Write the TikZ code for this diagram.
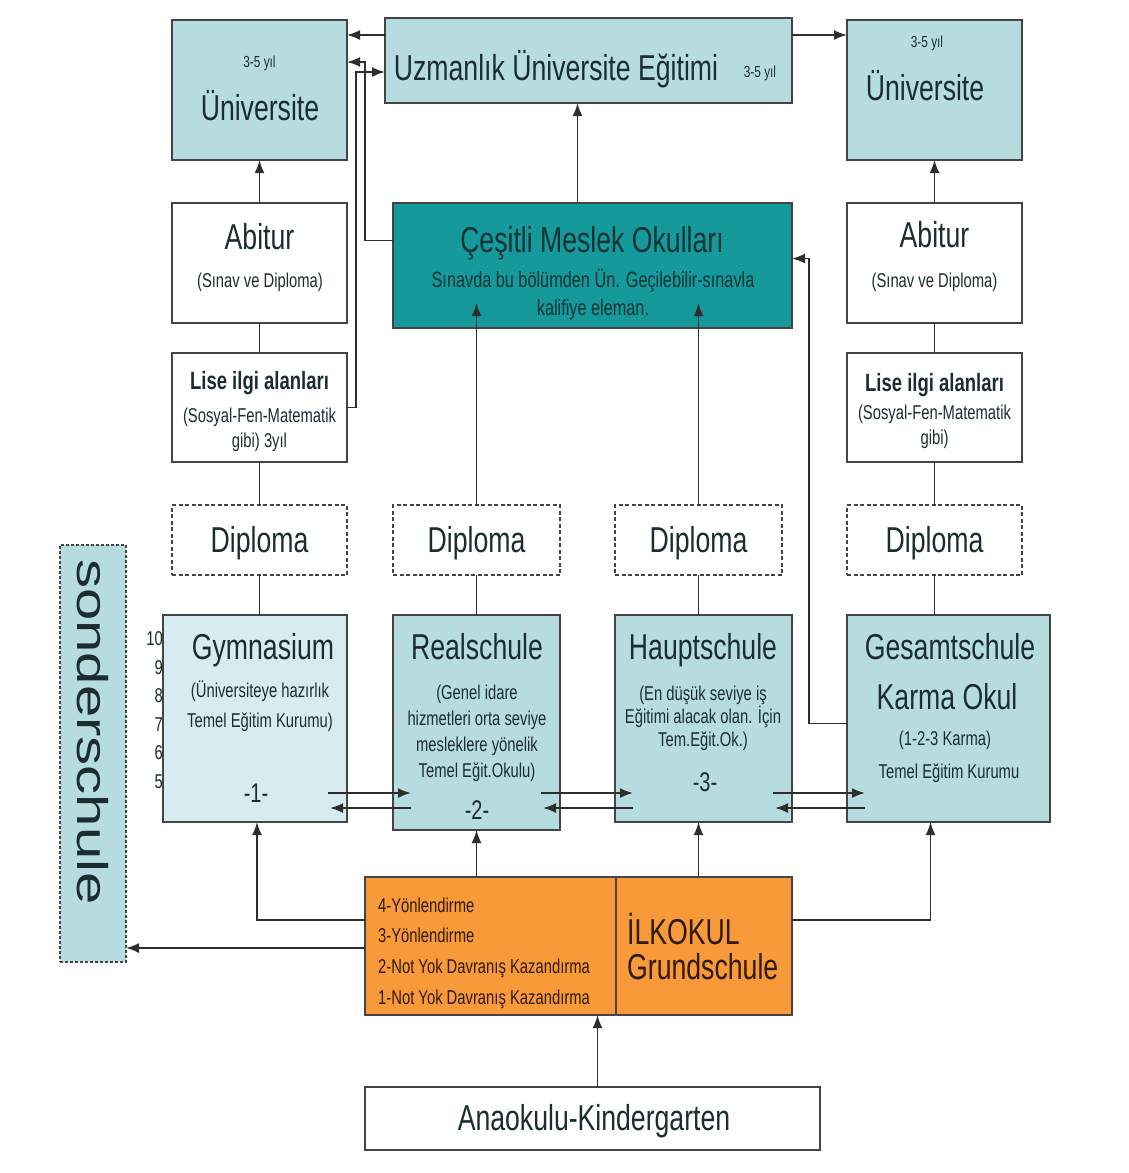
\documentclass[tikz,border=0pt]{standalone}
\usepackage{fontspec}
\setmainfont{Liberation Sans}[FakeStretch=0.74]
\newfontfamily\sondfont{Liberation Sans}[FakeStretch=1.35]
\usetikzlibrary{arrows.meta,calc}

\definecolor{uniblue}{HTML}{B6DCE0}
\definecolor{gymblue}{HTML}{D7ECF0}
\definecolor{mesteal}{HTML}{15999A}
\definecolor{ilkorange}{HTML}{F8993A}
\definecolor{edge}{HTML}{444444}
\definecolor{wire}{HTML}{2E2E2E}
\definecolor{txt}{HTML}{1B2D31}
\definecolor{mestxt}{HTML}{0C3335}
\definecolor{ilktxt}{HTML}{2E1A06}

\begin{document}
\begin{tikzpicture}[x=1pt, y=-1pt]
    \tikzstyle{box}=[draw=edge, line width=2.4pt, inner sep=0pt, outer sep=0pt]
    \tikzstyle{uni box}=[box, fill=uniblue]
    \tikzstyle{plain box}=[box, fill=white]
    \tikzstyle{dip box}=[box, fill=white, line width=1.6pt, dash pattern=on 4pt off 2.5pt]
    \tikzstyle{big}=[inner sep=0pt, text=txt, font=\fontsize{36}{40}\selectfont, text height=25.8pt, text depth=0pt]
    \tikzstyle{mid}=[inner sep=0pt, text=txt, font=\fontsize{27}{30}\selectfont, text height=19.3pt, text depth=0pt]
    \tikzstyle{sm}=[inner sep=0pt, text=txt, font=\fontsize{20}{24}\selectfont, text height=14.3pt, text depth=0pt]
    \tikzstyle{tiny}=[inner sep=0pt, text=txt, font=\fontsize{16}{18}\selectfont, text height=11.5pt, text depth=0pt]
    \tikzstyle{ln}=[draw=wire, line width=1.8pt]
    \tikzstyle{arr}=[ln, -{Latex[length=13pt,width=10pt]}]

    \fill[white] (0,0) rectangle (1129,1173);
    \useasboundingbox (0,0) rectangle (1129,1173);

    % University level
    \node[uni box, minimum width=175pt, minimum height=140pt] (uniL) at (259.5,90) {};
    \node[uni box, minimum width=407pt, minimum height=85pt] (uzm) at (588.5,60.5) {};
    \node[uni box, minimum width=175pt, minimum height=140pt] (uniR) at (934.5,90) {};
    \node[tiny] (uniL-y) at (259.5,62) {3-5 yıl};
    \node[big] (uniL-t) at (260,108) {Üniversite};
    \node[big] (uzm-t) at (556,68) {Uzmanlık Üniversite Eğitimi};
    \node[tiny] (uzm-y) at (760,72) {3-5 yıl};
    \node[tiny] (uniR-y) at (927,42) {3-5 yıl};
    \node[big] (uniR-t) at (925,88) {Üniversite};

    % Abitur and vocational schools
    \node[plain box, minimum width=175pt, minimum height=120pt] (abiL) at (259.5,263) {};
    \node[box, fill=mesteal, minimum width=399pt, minimum height=125pt] (mes) at (592.5,265.5) {};
    \node[plain box, minimum width=175pt, minimum height=120pt] (abiR) at (934.5,263) {};
    \node[big] (abiL-t) at (259.5,237) {Abitur};
    \node[sm] (abiL-s) at (260,280) {(Sınav ve Diploma)};
    \node[big] (abiR-t) at (934.5,235) {Abitur};
    \node[sm] (abiR-s) at (934.5,280) {(Sınav ve Diploma)};
    \node[big, text=mestxt] (mes-t) at (592,240) {Çeşitli Meslek Okulları};
    \node[sm, text=mestxt, font=\fontsize{22}{24}\selectfont, text height=15.8pt] (mes-s1) at (593,280) {Sınavda bu bölümden Ün. Geçilebilir-sınavla};
    \node[sm, text=mestxt, font=\fontsize{22}{24}\selectfont, text height=15.8pt] (mes-s2) at (593,308) {kalifiye eleman.};

    % Lise
    \node[plain box, minimum width=175pt, minimum height=109pt] (liseL) at (259.5,407.5) {};
    \node[plain box, minimum width=175pt, minimum height=109pt] (liseR) at (934.5,407.5) {};
    \node[sm, font=\bfseries\fontsize{25}{28}\selectfont, text height=18pt] (liseL-t) at (259.5,380) {Lise ilgi alanları};
    \node[sm] (liseL-s1) at (259.5,415) {(Sosyal-Fen-Matematik};
    \node[sm] (liseL-s2) at (259.5,440) {gibi) 3yıl};
    \node[sm, font=\bfseries\fontsize{25}{28}\selectfont, text height=18pt] (liseR-t) at (934.5,382) {Lise ilgi alanları};
    \node[sm] (liseR-s1) at (934.5,412) {(Sosyal-Fen-Matematik};
    \node[sm] (liseR-s2) at (934.5,437) {gibi)};

    % Diploma boxes
    \foreach \name/\x/\w in {dip1/259.5/175pt, dip2/476.5/167pt, dip3/698.5/167pt, dip4/934.5/175pt} {
        \node[dip box, minimum width=\w, minimum height=70pt] (\name) at (\x,540) {};
        \node[big] (\name-t) at (\x,540) {Diploma};
    }

    % Secondary schools
    \node[box, fill=gymblue, minimum width=184pt, minimum height=207pt] (gym) at (255,718.5) {};
    \node[uni box, minimum width=167pt, minimum height=215pt] (real) at (476.5,722.5) {};
    \node[uni box, minimum width=177pt, minimum height=207pt] (haupt) at (703.5,718.5) {};
    \node[uni box, minimum width=203pt, minimum height=207pt] (ges) at (948.5,718.5) {};

    \node[big] (gym-t) at (263,647) {Gymnasium};
    \node[sm] (gym-s1) at (260,690) {(Üniversiteye hazırlık};
    \node[sm] (gym-s2) at (260,720) {Temel Eğitim Kurumu)};
    \node[mid] (gym-n) at (256,793) {-1-};
    \foreach \n/\y in {10/638, 9/667, 8/695, 7/724, 6/752, 5/781}
        \node[sm, anchor=east] (yr-\n) at (163,\y) {\n};

    \node[big] (real-t) at (477,647) {Realschule};
    \foreach \t/\y [count=\i] in {{(Genel idare}/692, {hizmetleri orta seviye}/718, {mesleklere yönelik}/744, {Temel Eğit.Okulu)}/770}
        \node[sm] (real-s\i) at (477,\y) {\t};
    \node[mid] (real-n) at (477,810) {-2-};

    \node[big] (haupt-t) at (703,647) {Hauptschule};
    \foreach \t/\y [count=\i] in {{(En düşük seviye iş}/693, {Eğitimi alacak olan. İçin}/716, {Tem.Eğit.Ok.)}/739}
        \node[sm] (haupt-s\i) at (703,\y) {\t};
    \node[mid] (haupt-n) at (705,782) {-3-};

    \node[big] (ges-t) at (950,647) {Gesamtschule};
    \node[big] (ges-t2) at (947,697) {Karma Okul};
    \node[sm] (ges-s1) at (945,738) {(1-2-3 Karma)};
    \node[sm] (ges-s2) at (949,771) {Temel Eğitim Kurumu};

    % Sonderschule
    \node[box, fill=uniblue, line width=1.6pt, dash pattern=on 3pt off 2pt, minimum width=66pt, minimum height=417pt] (sond) at (93,753.5) {};
    \node[rotate=-90, inner sep=0pt, text=txt, font=\sondfont\fontsize{43}{45}\selectfont, text height=31pt, text depth=0pt] (sond-t) at (93,732) {sonderschule};

    % Primary school and kindergarten
    \node[box, fill=ilkorange, minimum width=251pt, minimum height=138pt] (ilkA) at (490.5,946) {};
    \node[box, fill=ilkorange, minimum width=176pt, minimum height=138pt] (ilkB) at (704,946) {};
    \foreach \t/\y [count=\i] in {{4-Yönlendirme}/905, {3-Yönlendirme}/935, {2-Not Yok Davranış Kazandırma}/966, {1-Not Yok Davranış Kazandırma}/997}
        \node[sm, anchor=west, text=ilktxt] (ilk-s\i) at (378,\y) {\t};
    \node[big, anchor=west, text=ilktxt] (ilk-t) at (627,932) {İLKOKUL};
    \node[big, anchor=west, text=ilktxt] (ilk-t2) at (627,967) {Grundschule};

    \node[plain box, minimum width=455pt, minimum height=63pt] (ana) at (592.5,1118.5) {};
    \node[big] (ana-t) at (594,1118) {Anaokulu-Kindergarten};

    % Vertical chains
    \draw[ln] (dip1.south) -- (dip1.south |- gym.north);
    \draw[ln] (dip1.north) -- (liseL.south);
    \draw[ln] (liseL.north) -- (abiL.south);
    \draw[arr] (abiL.north) -- (uniL.south);
    \draw[ln] (dip4.south) -- (dip4.south |- ges.north);
    \draw[ln] (dip4.north) -- (liseR.south);
    \draw[ln] (liseR.north) -- (abiR.south);
    \draw[arr] (abiR.north) -- (uniR.south);
    \draw[ln] (dip2.south) -- (real.north);
    \draw[arr] (dip2.north) -- ($(dip2.north |- mes.south)+(0pt,25pt)$);
    \draw[ln] (dip3.south) -- (dip3.south |- haupt.north);
    \draw[arr] (dip3.north) -- ($(dip3.north |- mes.south)+(0pt,25pt)$);
    \coordinate (mes-up) at ([xshift=-15pt]mes.north);
    \draw[arr] (mes-up) -- (mes-up |- uzm.south);

    % Links between the top boxes
    \coordinate (uzm-a) at ([yshift=-17pt]uzm.north west);
    \coordinate (uzm-b) at ([yshift=-17pt]uzm.north east);
    \draw[arr] (uzm-a) -- (uzm-a -| uniL.east);
    \draw[arr] (uzm-b) -- (uzm-b -| uniR.west);
    \draw[arr] ([yshift=25pt]mes.west) -- ++(-28pt,0pt) |- ([yshift=-42pt]uniL.north east);
    \draw[arr] (liseL.east) -- ++(9pt,0pt) |- ([yshift=-54pt]uzm.north west);
    \draw[arr] ([yshift=-5pt]ges.west) -- ++(-38pt,0pt) |- ([yshift=7pt]mes.east);

    % Transfers between the secondary schools
    \coordinate (hi) at (0,793);
    \coordinate (lo) at (0,808);
    \foreach \a/\b in {gym/real, real/haupt, haupt/ges} {
        \draw[arr] ($(\a.east |- hi)+(-19pt,0pt)$) -- ($(\b.west |- hi)+(18pt,0pt)$);
        \draw[arr] ($(\b.west |- lo)+(18pt,0pt)$) -- ($(\a.east |- lo)+(-17pt,0pt)$);
    }

    % From the primary school
    \coordinate (ilk-hi) at ([yshift=-43pt]ilkA.north west);
    \coordinate (ilk-lo) at ([yshift=-71pt]ilkA.north west);
    \coordinate (ilk-hr) at ([yshift=-43pt]ilkB.north east);
    \draw[arr] (ilk-hi) -| ([xshift=2pt]gym.south);
    \draw[arr] (ilk-lo) -- (ilk-lo -| sond.east);
    \draw[arr] (ilk-hr) -| ([xshift=-18pt]ges.south);
    \draw[arr] (real.south |- ilkA.north) -- (real.south);
    \draw[arr] (dip3 |- ilkB.north) -- (dip3 |- haupt.south);
    \draw[arr] ([xshift=5pt]ana.north) -- ([xshift=5pt]ana.north |- ilkA.south);

\end{tikzpicture}
\end{document}
